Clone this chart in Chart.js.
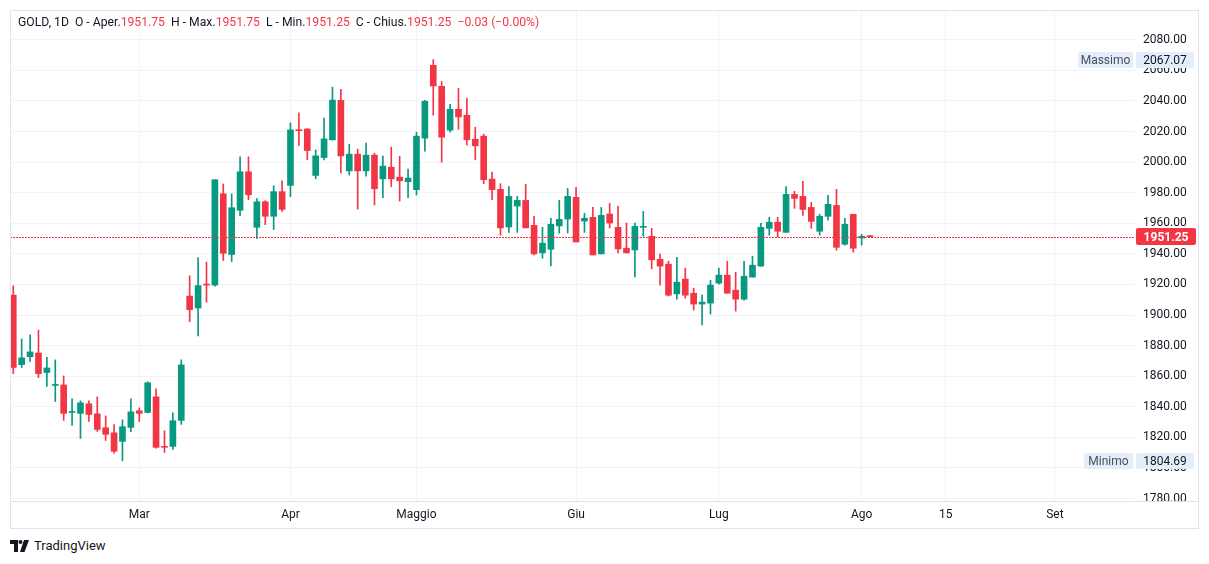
<!DOCTYPE html>
<html>
<head>
<meta charset="utf-8">
<script src="https://cdn.jsdelivr.net/npm/chart.js@4.4.0/dist/chart.umd.min.js"></script>
<style>
  body { margin: 0; background: #fff; font-family: Roboto, "Noto Sans", sans-serif; }
  #wrap { position: absolute; left: 10px; top: 10px; width: 1189px; height: 519px; }
  #legenda { position: absolute; left: 18px; top: 15px; font-size: 12.2px; color: #131722; white-space: pre; }
  .v { color: #f23645; }
  #logo { position: absolute; left: 10px; top: 538px; font-size: 13px; color: #131722; display: flex; align-items: center; }
  #logo svg { margin-right: 4px; }
</style>
</head>
<body>
<div id="wrap"><canvas id="grafico"></canvas></div>
<div id="legenda">GOLD, 1D  O - Aper.<span class="v">1951.75</span>  H - Max.<span class="v">1951.75</span>  L - Min.<span class="v">1951.25</span>  C - Chius.<span class="v">1951.25</span>  <span class="v">−0.03 (−0.00%)</span></div>
<div id="logo"><svg width="20" height="12" viewBox="0 0 20 12"><path d="M0 0h8v12h-4v-8h-4z" fill="#131722"/><circle cx="10.5" cy="2" r="2" fill="#131722"/><path d="M14 0h5l-4.5 12h-4.5z" fill="#131722"/></svg><span>TradingView</span></div>
<script>
// Etichette dell'asse X (indice della candela -> nome)
const xTickIdx = [15, 33, 48, 67, 84, 101, 111, 124];
const xTickLabels = ['Mar', 'Apr', 'Maggio', 'Giu', 'Lug', 'Ago', '15', 'Set'];
const yTicks = [1780, 1800, 1820, 1840, 1860, 1880, 1900, 1920, 1940, 1960, 1980, 2000, 2020, 2040, 2060, 2080];

// OHLC giornalieri
const opens = [1913.0, 1867.6, 1872.8, 1875.2, 1862.4, 1854.0, 1854.3, 1836.3, 1835.7, 1842.0,
  1835.4, 1826.3, 1823.0, 1817.4, 1826.5, 1837.4, 1836.3, 1846.5, 1814.0, 1814.1,
  1831.1, 1912.4, 1904.6, 1920.0, 1919.6, 1979.3, 1939.6, 1968.5, 1993.7, 1957.4,
  1974.1, 1964.6, 1980.7, 1984.8, 2021.2, 2021.7, 1991.3, 2003.0, 2014.6, 2040.4,
  1994.3, 2005.2, 1994.3, 2004.6, 1989.1, 1996.7, 1990.2, 1987.2, 1982.0, 2015.7,
  2063.3, 2049.6, 2020.9, 2034.6, 2030.7, 2015.0, 2017.0, 1988.9, 1982.2, 1957.6,
  1971.3, 1975.0, 1958.7, 1940.7, 1943.0, 1958.3, 1962.8, 1977.0, 1961.5, 1963.9,
  1940.0, 1966.1, 1957.4, 1943.7, 1942.6, 1957.4, 1951.5, 1936.5, 1933.3, 1913.9,
  1923.5, 1914.3, 1907.2, 1907.8, 1920.9, 1926.1, 1916.3, 1910.4, 1924.8, 1932.0,
  1956.7, 1960.7, 1954.1, 1978.9, 1977.6, 1970.4, 1954.8, 1964.6, 1971.7, 1946.3,
  1965.9, 1950.4, 1951.75];
const highs = [1919.1, 1884.3, 1887.0, 1890.2, 1872.4, 1870.7, 1860.2, 1845.2, 1843.9, 1843.9,
  1846.5, 1834.1, 1828.3, 1831.5, 1845.2, 1839.3, 1856.3, 1851.7, 1824.3, 1836.1,
  1870.7, 1925.7, 1937.6, 1934.6, 1988.5, 1985.7, 1979.3, 2003.5, 2003.5, 1976.1,
  1974.8, 1984.6, 1987.8, 2025.7, 2032.2, 2021.9, 2008.0, 2028.9, 2049.1, 2047.6,
  2011.7, 2008.5, 2012.4, 2005.9, 2003.9, 2009.8, 2003.9, 1995.4, 2019.6, 2040.4,
  2067.07, 2052.8, 2037.8, 2048.3, 2041.7, 2022.8, 2018.3, 1993.5, 1985.9, 1984.1,
  1977.6, 1985.4, 1964.6, 1957.4, 1963.3, 1975.0, 1982.8, 1983.5, 1966.5, 1970.4,
  1970.4, 1973.0, 1971.1, 1960.2, 1960.2, 1967.8, 1956.7, 1939.8, 1935.2, 1937.8,
  1930.7, 1917.6, 1913.0, 1922.8, 1930.7, 1935.2, 1928.0, 1935.2, 1938.5, 1960.0,
  1963.9, 1963.9, 1984.1, 1980.9, 1987.4, 1973.7, 1965.9, 1978.3, 1982.2, 1963.3,
  1965.9, 1952.8, 1951.75];
const lows = [1861.7, 1865.7, 1869.6, 1859.1, 1853.3, 1843.5, 1831.1, 1827.8, 1819.3, 1830.4,
  1823.9, 1818.0, 1809.6, 1804.69, 1823.7, 1830.4, 1836.0, 1813.0, 1810.2, 1812.2,
  1828.5, 1895.7, 1886.3, 1908.5, 1918.9, 1935.7, 1935.0, 1965.0, 1975.4, 1950.0,
  1959.1, 1955.9, 1967.8, 1977.4, 2010.9, 2001.5, 1989.1, 2001.5, 2014.4, 1993.0,
  1991.5, 1969.3, 1990.9, 1972.0, 1976.7, 1983.9, 1974.6, 1976.7, 1978.5, 2007.2,
  2030.7, 2000.0, 2019.6, 2021.5, 2011.3, 2001.5, 1985.9, 1975.4, 1952.2, 1954.1,
  1954.1, 1957.0, 1939.3, 1937.2, 1932.2, 1953.5, 1953.7, 1947.8, 1954.1, 1939.3,
  1940.0, 1957.0, 1940.7, 1940.5, 1925.0, 1951.5, 1930.2, 1919.6, 1912.4, 1910.4,
  1911.1, 1903.3, 1893.5, 1900.7, 1920.2, 1914.3, 1902.6, 1909.8, 1924.8, 1932.0,
  1952.2, 1950.9, 1954.0, 1969.8, 1965.2, 1956.7, 1952.2, 1962.0, 1942.4, 1945.7,
  1941.1, 1945.7, 1951.25];
const closes = [1865.7, 1872.0, 1875.9, 1861.7, 1865.4, 1854.3, 1835.7, 1836.6, 1842.6, 1835.0,
  1825.2, 1822.0, 1810.9, 1827.0, 1836.7, 1835.7, 1855.7, 1813.5, 1813.5, 1830.9,
  1867.4, 1903.5, 1919.3, 1919.6, 1988.5, 1940.4, 1970.2, 1993.7, 1978.7, 1974.1,
  1964.6, 1980.7, 1969.1, 2021.1, 2020.6, 2007.6, 2004.1, 2015.2, 2040.6, 2004.1,
  2005.2, 1994.3, 2004.6, 1982.6, 1997.4, 1989.1, 1987.8, 1989.6, 2017.0, 2039.8,
  2049.8, 2016.3, 2034.6, 2029.6, 2014.6, 2010.7, 1988.5, 1982.0, 1957.0, 1977.6,
  1975.0, 1957.0, 1940.0, 1947.0, 1959.3, 1962.6, 1977.6, 1947.8, 1963.3, 1939.3,
  1965.2, 1960.2, 1943.3, 1940.7, 1958.0, 1957.8, 1936.1, 1932.0, 1913.0, 1921.5,
  1913.0, 1907.2, 1908.5, 1919.6, 1926.1, 1914.3, 1910.4, 1925.4, 1932.6, 1957.4,
  1960.7, 1954.8, 1978.9, 1976.3, 1969.1, 1961.3, 1964.6, 1972.4, 1944.3, 1959.3,
  1943.7, 1951.5, 1951.25];

const massimo = 2067.07;
const minimo = 1804.69;
const ultimo = closes[closes.length - 1];

const VERDE = '#089981';
const ROSSO = '#f23645';

const colori = opens.map((o, i) => closes[i] >= o ? VERDE : ROSSO);
const stoppini = opens.map((o, i) => ({ x: i, y: [lows[i], highs[i]] }));
const corpi = opens.map((o, i) => ({ x: i, y: [Math.min(o, closes[i]), Math.max(o, closes[i])] }));

function etichetta(ctx, x, w, yc, h, bg, testo, col, font) {
  ctx.fillStyle = bg;
  ctx.beginPath();
  ctx.roundRect(x, Math.round(yc - h / 2), w, h, 2);
  ctx.fill();
  ctx.fillStyle = col;
  ctx.font = font;
  ctx.textAlign = 'center';
  ctx.textBaseline = 'middle';
  ctx.fillText(testo, x + w / 2, Math.round(yc) + 0.5);
}

const sovrapposizioni = {
  id: 'sovrapposizioni',
  afterDatasetsDraw(chart) {
    // linea punteggiata dell'ultimo prezzo
    const { ctx, chartArea, scales: { y } } = chart;
    const py = Math.round(y.getPixelForValue(ultimo));
    ctx.save();
    ctx.fillStyle = ROSSO;
    for (let x = Math.ceil(chartArea.left); x < chartArea.right; x += 3) {
      ctx.fillRect(x, py, 2, 1);
    }
    ctx.restore();
  },
  afterDraw(chart) {
    const { ctx, chartArea, scales: { y }, width, height } = chart;
    ctx.save();
    // cornice
    ctx.strokeStyle = '#e0e3eb';
    ctx.lineWidth = 1;
    ctx.strokeRect(0.5, 0.5, width - 1, height - 1);
    ctx.beginPath();
    ctx.moveTo(0, chartArea.bottom + 0.5);
    ctx.lineTo(width, chartArea.bottom + 0.5);
    ctx.stroke();

    const f = '12px Roboto, "Noto Sans", sans-serif';
    const xv = chartArea.right + 1;
    const ym = y.getPixelForValue(massimo);
    etichetta(ctx, chartArea.right - 57, 55, ym, 16, '#e3eefa', 'Massimo', '#4a4e5a', f);
    etichetta(ctx, xv, 58, ym, 16, '#e3eefa', massimo.toFixed(2), '#131722', f);
    const yn = y.getPixelForValue(minimo);
    etichetta(ctx, chartArea.right - 51, 49, yn, 16, '#e3eefa', 'Minimo', '#4a4e5a', f);
    etichetta(ctx, xv, 58, yn, 16, '#e3eefa', minimo.toFixed(2), '#131722', f);
    const yu = y.getPixelForValue(ultimo);
    etichetta(ctx, xv, 60, yu, 17, ROSSO, ultimo.toFixed(2), '#ffffff', 'bold 12px Roboto, "Noto Sans", sans-serif');
    ctx.restore();
  }
};

new Chart(document.getElementById('grafico'), {
  type: 'bar',
  data: {
    datasets: [
      { data: stoppini, backgroundColor: colori, barThickness: 1, grouped: false, minBarLength: 1, borderWidth: 0 },
      { data: corpi, backgroundColor: colori, barThickness: 6, grouped: false, minBarLength: 1, borderWidth: 0 }
    ]
  },
  options: {
    responsive: true,
    maintainAspectRatio: false,
    animation: false,
    layout: { padding: 0 },
    plugins: { legend: { display: false }, tooltip: { enabled: false } },
    scales: {
      x: {
        type: 'linear',
        min: -0.39,
        max: 133.54,
        offset: false,
        grid: { color: '#f0f3fa', offset: false, drawTicks: false },
        border: { display: false },
        afterBuildTicks: s => { s.ticks = xTickIdx.map(v => ({ value: v })); },
        afterFit: s => { s.height = 28; s.paddingLeft = 0; s.paddingRight = 0; },
        ticks: {
          autoSkip: false,
          maxRotation: 0,
          padding: 7,
          color: '#131722',
          font: { family: 'Roboto, "Noto Sans", sans-serif', size: 12 },
          callback: v => xTickLabels[xTickIdx.indexOf(v)]
        }
      },
      y: {
        position: 'right',
        min: 1778.4,
        max: 2099.5,
        grid: { color: '#f0f3fa', drawTicks: false },
        border: { display: false },
        afterBuildTicks: s => { s.ticks = yTicks.map(v => ({ value: v })); },
        afterFit: s => { s.width = 64; s.paddingTop = 0; s.paddingBottom = 0; },
        ticks: {
          padding: 8,
          color: '#131722',
          font: { family: 'Roboto, "Noto Sans", sans-serif', size: 12 },
          callback: v => v.toFixed(2)
        }
      }
    }
  },
  plugins: [sovrapposizioni]
});
</script>
</body>
</html>
